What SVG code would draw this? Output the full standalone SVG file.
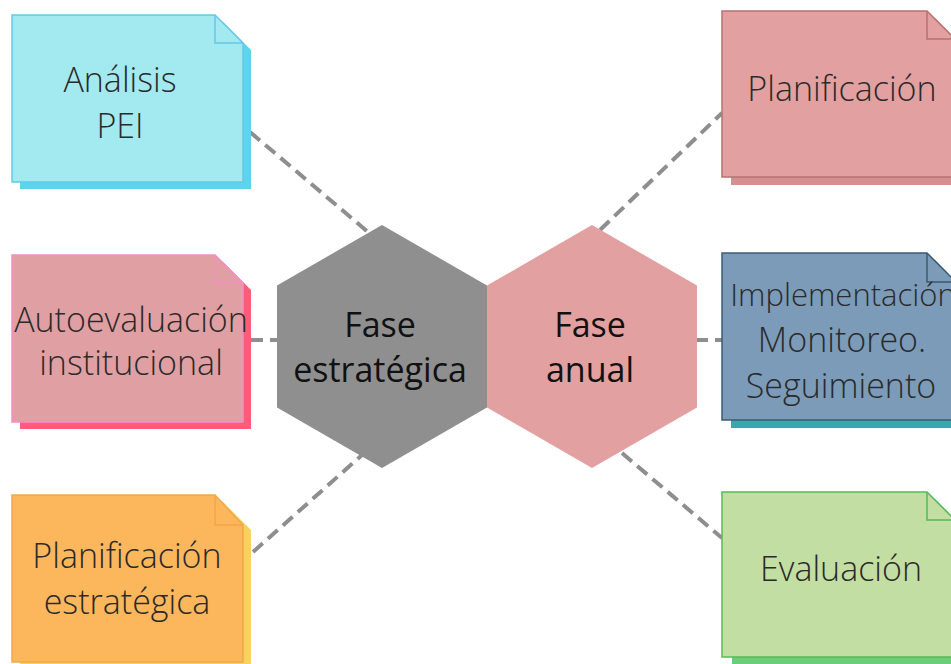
<svg xmlns="http://www.w3.org/2000/svg" width="951" height="664" viewBox="0 0 951 664">
<style>
.note text{font-family:"Open Sans","Liberation Sans",sans-serif;font-weight:300;font-size:34px;fill:#2a2a2a;text-anchor:middle}
.hex text{font-family:"Open Sans","Liberation Sans",sans-serif;font-weight:400;font-size:34px;fill:#111;text-anchor:middle}
.fold{fill:none;stroke-width:1.5}
.conn line{stroke:#8e8e8e;stroke-width:4;stroke-dasharray:13 7;fill:none}
</style>
<rect width="951" height="664" fill="#ffffff"/>
<g class="conn" id="connectors">
<line x1="250" y1="132" x2="368" y2="232"/>
<line x1="250" y1="340" x2="278" y2="340"/>
<line x1="253" y1="552" x2="362" y2="455"/>
<line x1="600" y1="230" x2="722" y2="113"/>
<line x1="695" y1="340" x2="722" y2="340"/>
<line x1="622" y1="453" x2="722" y2="538"/>
</g>
<g class="hex" id="fase-estrategica">
<polygon points="382,225 487,285.5 487,407.5 382,468 277,407.5 277,285.5" fill="#8f8f8f"/>
<text x="380" y="337">Fase</text>
<text x="380" y="382">estratégica</text>
</g>
<g class="hex" id="fase-anual">
<polygon points="592,225 697,285.5 697,407.5 592,468 487,407.5 487,285.5" fill="#e3a0a0"/>
<text x="590" y="337">Fase</text>
<text x="590" y="382">anual</text>
</g>
<g class="note" id="analisis-pei">
<path d="M20,22 H223 L251,50 V189 H20 Z" fill="#5ad5ec"/>
<path d="M12,15 H215 L243,43 V182 H12 Z" fill="#a3e9f0" stroke="#66c8e8" stroke-width="1.5"/>
<path class="fold" d="M215,15 V43 H243" stroke="#66c8e8"/>
<text x="120" y="92">Análisis</text>
<text x="120" y="138">PEI</text>
</g>
<g class="note" id="autoevaluacion">
<path d="M20,262 H223 L251,290 V429 H20 Z" fill="#ff5c7a"/>
<path d="M12,255 H215 L243,283 V422 H12 Z" fill="#e0a0a3" stroke="#f58cc8" stroke-width="1.5"/>
<path class="fold" d="M215,255 V283 H243" stroke="#f58cc8"/>
<text x="131" y="332">Autoevaluación</text>
<text x="131" y="375">institucional</text>
</g>
<g class="note" id="planificacion-estrategica">
<path d="M20,502 H223 L251,530 V669 H20 Z" fill="#f8d25a"/>
<path d="M12,495 H215 L243,525 V662 H12 Z" fill="#fcb75c" stroke="#f0a848" stroke-width="1.5"/>
<path class="fold" d="M215,495 V525 H243" stroke="#f0a848"/>
<text x="127" y="568">Planificación</text>
<text x="127" y="614">estratégica</text>
</g>
<g class="note" id="planificacion">
<path d="M731,18 H935 L963,46 V185 H731 Z" fill="#d49090"/>
<path d="M722,11 H927 L955,39 V177 H722 Z" fill="#e3a0a0" stroke="#b87070" stroke-width="1.5"/>
<path class="fold" d="M927,11 V39 H955" stroke="#b87070"/>
<text x="842" y="101">Planificación</text>
</g>
<g class="note" id="implementacion">
<path d="M731,260 H935 L963,289 V428 H731 Z" fill="#3aa6ae"/>
<path d="M722,253 H927 L956,282 V420 H722 Z" fill="#7b9bb9" stroke="#3e5a72" stroke-width="1.5"/>
<path class="fold" d="M927,253 V282 H956" stroke="#3e5a72"/>
<text x="843" y="306" style="font-size:31px">Implementación</text>
<text x="842" y="352">Monitoreo.</text>
<text x="841" y="398">Seguimiento</text>
</g>
<g class="note" id="evaluacion">
<path d="M732,499 H935 L963,527 V670 H732 Z" fill="#6ccc7a"/>
<path d="M722,492 H927 L955,520 V657 H722 Z" fill="#c2dea2" stroke="#5ab85a" stroke-width="1.5"/>
<path class="fold" d="M927,492 V520 H955" stroke="#5ab85a"/>
<text x="841" y="581">Evaluación</text>
</g>
</svg>
